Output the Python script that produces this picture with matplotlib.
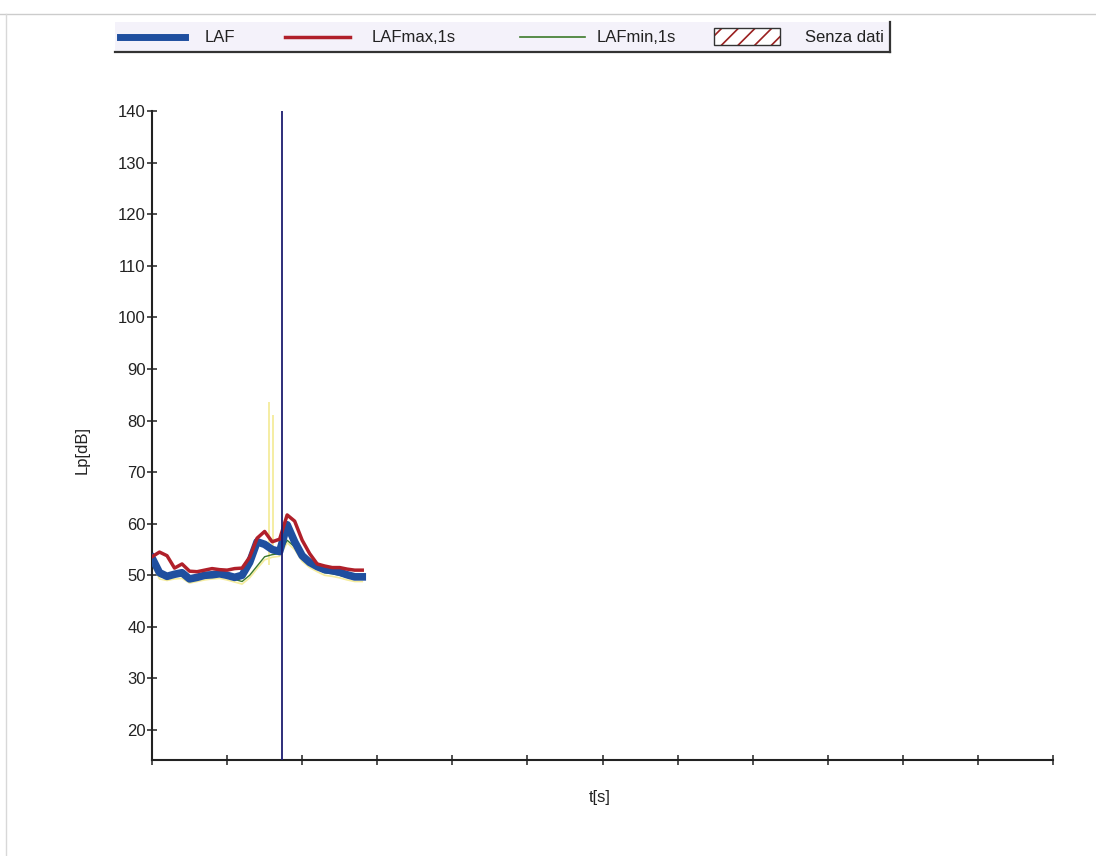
import matplotlib

matplotlib.use('Agg')
import matplotlib.pyplot as plt
from matplotlib.lines import Line2D
from matplotlib.patches import Rectangle
import numpy as np

plt.rcParams['font.family'] = ['Liberation Sans', 'DejaVu Sans']
plt.rcParams['hatch.linewidth'] = 1.2

# one reading per second
t = np.arange(0, 29)
laf = [53.4, 50.5, 49.8, 50.2, 50.5, 49.3, 49.6, 50.0, 50.1, 50.3, 50.0, 49.6, 50.0, 52.5, 56.5,
       56.0, 55.0, 54.6, 59.8, 56.5, 53.8, 52.5, 51.7, 51.1, 50.9, 50.6, 50.1, 49.7, 49.7]
laf_max = [53.6, 54.5, 53.8, 51.4, 52.2, 50.8, 50.7, 51.0, 51.3, 51.1, 51.0, 51.3, 51.4, 53.5, 57.2,
           58.5, 56.5, 57.0, 61.7, 60.5, 56.8, 54.2, 52.2, 51.8, 51.5, 51.5, 51.2, 51.0, 51.0]
laf_min = [52.5, 49.8, 49.5, 49.8, 49.9, 49.0, 49.3, 49.6, 49.8, 49.9, 49.6, 49.2, 48.8, 50.0, 51.8,
           53.6, 54.0, 54.2, 56.8, 55.5, 53.2, 52.0, 51.2, 50.5, 50.3, 50.0, 49.6, 49.3, 49.3]
# pale trace under LAFmin
lpk = [52.0, 49.3, 49.0, 49.3, 49.4, 48.5, 48.8, 49.1, 49.3, 49.4, 49.1, 48.7, 48.3, 49.5, 51.3,
       53.0, 53.5, 53.7, 56.3, 55.0, 52.7, 51.5, 50.7, 50.0, 49.8, 49.5, 49.1, 48.8, 48.8]
# short peak event
pk_t = [15.6, 16.1]
pk_lo = [52.0, 54.0]
pk_hi = [83.5, 81.0]
cursor_t = 17.3

legend_labels = ['LAF', 'LAFmax,1s', 'LAFmin,1s', 'Senza dati']

c_laf = '#1f4f9f'
c_max = '#b0202a'
c_min = '#3c7a2a'
c_pk = '#f5ec9c'
fs = 12

fig = plt.figure(figsize=(10.96, 8.56), dpi=100)
W, H = 1096, 856

ax = fig.add_axes([152 / W, 1 - 760 / H, 901 / W, 649 / H])
ax.plot(t, lpk, color=c_pk, lw=1.2, zorder=2)
ax.vlines(pk_t, pk_lo, pk_hi, color=c_pk, lw=1.3, zorder=2)
ax.plot(t, laf_min, color=c_min, lw=1.0, zorder=3)
ax.plot(t, laf, color=c_laf, lw=5.5, solid_joinstyle='round', zorder=4)
ax.plot(t, laf_max, color=c_max, lw=2.5, zorder=5)
ax.axvline(cursor_t, color='#1c1c70', lw=1.3, zorder=6)

ax.set_xlim(0, 120)
ax.set_ylim(14.2, 140)
ax.set_xticks(np.arange(0, 121, 10))
ax.set_xticklabels([])
ax.set_yticks(np.arange(20, 141, 10))
for s in ['top', 'right']:
    ax.spines[s].set_visible(False)
for s in ['left', 'bottom']:
    ax.spines[s].set_color('#222222')
    ax.spines[s].set_linewidth(1.5)
ax.tick_params(axis='both', direction='inout', length=7, width=1.1, color='#222222',
               labelsize=fs, labelcolor='#222222', pad=1)
ax.set_ylabel('Lp[dB]', fontsize=fs, color='#222222')
ax.yaxis.set_label_coords(-0.069, 0.478)
ax.set_xlabel('t[s]', fontsize=fs, color='#222222')
ax.xaxis.set_label_coords(0.497, -0.046)

# legend strip
lg = fig.add_axes([115 / W, 1 - 52 / H, 775 / W, 30 / H])
lg.set_facecolor('#f4f2fa')
lg.set_xlim(115, 890)
lg.set_ylim(52, 22)
lg.set_xticks([])
lg.set_yticks([])
for s in ['top', 'left']:
    lg.spines[s].set_visible(False)
for s in ['bottom', 'right']:
    lg.spines[s].set_color('#333333')
    lg.spines[s].set_linewidth(1.6)
lg.plot([120, 185], [37, 37], color=c_laf, lw=5)
lg.plot([285, 350], [37, 37], color=c_max, lw=2.5)
lg.plot([520, 585], [37, 37], color=c_min, lw=1.2)
lg.add_patch(Rectangle((714, 28), 66, 17, facecolor='white', edgecolor='#9a2020',
                       hatch='//', lw=0))
lg.add_patch(Rectangle((714, 28), 66, 17, facecolor='none', edgecolor='#333333', lw=1.0))
for x0, lab in zip([205, 372, 597, 805], legend_labels):
    lg.text(x0, 37, lab, fontsize=fs, color='#222222', va='center', ha='left')

# faint page border
fig.add_artist(Line2D([0, 1], [1 - 14 / H, 1 - 14 / H], color='#cccccc', lw=1))
fig.add_artist(Line2D([6 / W, 6 / W], [0, 1 - 14 / H], color='#d8d8d8', lw=1))

fig.savefig('out.png', dpi=100)
